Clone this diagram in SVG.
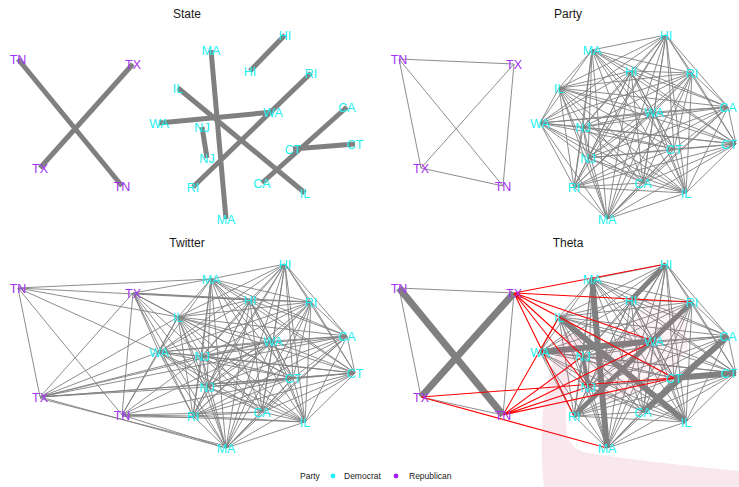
<svg xmlns="http://www.w3.org/2000/svg" xmlns:xlink="http://www.w3.org/1999/xlink" width="739" height="487" viewBox="0 0 739 487">
<style>
.e{stroke:#808080;stroke-width:0.9;fill:none}
.tk{stroke:#808080;fill:none}
.rd{stroke:#FF0000;stroke-width:1.1;fill:none}
text{font-family:"Liberation Sans",Arial,sans-serif}
.n text{font-size:12.5px;text-anchor:middle}
.d text{fill:#1CF0F0}
.r text{fill:#A533F0}
.title{font-size:12px;fill:#1a1a1a;text-anchor:middle}
.lg{font-size:8.5px;fill:#1a1a1a}
</style>
<defs>
<path id="clique" class="e" d="M211 50L226 219M211 50L285 35M211 50L250 71M211 50L311 73M211 50L193 187M211 50L178 88M211 50L305 193M211 50L159 123M211 50L273 112M211 50L202 127M211 50L207 158M211 50L347 107M211 50L262 183M211 50L293 149M211 50L355 144M226 219L285 35M226 219L250 71M226 219L311 73M226 219L193 187M226 219L178 88M226 219L305 193M226 219L159 123M226 219L273 112M226 219L202 127M226 219L207 158M226 219L347 107M226 219L262 183M226 219L293 149M226 219L355 144M285 35L250 71M285 35L311 73M285 35L193 187M285 35L178 88M285 35L305 193M285 35L159 123M285 35L273 112M285 35L202 127M285 35L207 158M285 35L347 107M285 35L262 183M285 35L293 149M285 35L355 144M250 71L311 73M250 71L193 187M250 71L178 88M250 71L305 193M250 71L159 123M250 71L273 112M250 71L202 127M250 71L207 158M250 71L347 107M250 71L262 183M250 71L293 149M250 71L355 144M311 73L193 187M311 73L178 88M311 73L305 193M311 73L159 123M311 73L273 112M311 73L202 127M311 73L207 158M311 73L347 107M311 73L262 183M311 73L293 149M311 73L355 144M193 187L178 88M193 187L305 193M193 187L159 123M193 187L273 112M193 187L202 127M193 187L207 158M193 187L347 107M193 187L262 183M193 187L293 149M193 187L355 144M178 88L305 193M178 88L159 123M178 88L273 112M178 88L202 127M178 88L207 158M178 88L347 107M178 88L262 183M178 88L293 149M178 88L355 144M305 193L159 123M305 193L273 112M305 193L202 127M305 193L207 158M305 193L347 107M305 193L262 183M305 193L293 149M305 193L355 144M159 123L273 112M159 123L202 127M159 123L207 158M159 123L347 107M159 123L262 183M159 123L293 149M159 123L355 144M273 112L202 127M273 112L207 158M273 112L347 107M273 112L262 183M273 112L293 149M273 112L355 144M202 127L207 158M202 127L347 107M202 127L262 183M202 127L293 149M202 127L355 144M207 158L347 107M207 158L262 183M207 158L293 149M207 158L355 144M347 107L262 183M347 107L293 149M347 107L355 144M262 183L293 149M262 183L355 144M293 149L355 144"/>
<path id="k4" class="e" d="M18 59L133 64M18 59L40 168M18 59L122 186M133 64L40 168M133 64L122 186M40 168L122 186"/>
</defs>
<rect width="739" height="487" fill="#FFFFFF"/>

<!-- STATE panel -->
<g id="panel-state">
<text class="title" x="187" y="18">State</text>
<g id="state-connectors" class="tk" stroke-width="5">
<path d="M18 59L122 186M133 64L40 168M211 50L226 219M285 35L250 71M311 73L193 187M178 88L305 193M159 123L273 112M202 127L207 158M347 107L262 183M293 149L355 144"/>
</g>
<g id="state-nodes" class="n">
<g id="state-TN1" class="r"><text x="18" y="63.5">TN</text></g>
<g id="state-TX1" class="r"><text x="133" y="68.5">TX</text></g>
<g id="state-TX2" class="r"><text x="40" y="172.5">TX</text></g>
<g id="state-TN2" class="r"><text x="122" y="190.5">TN</text></g>
<g id="state-MA1" class="d"><text x="211" y="54.5">MA</text></g>
<g id="state-MA2" class="d"><text x="226" y="223.5">MA</text></g>
<g id="state-HI1" class="d"><text x="285" y="39.5">HI</text></g>
<g id="state-HI2" class="d"><text x="250" y="75.5">HI</text></g>
<g id="state-RI1" class="d"><text x="311" y="77.5">RI</text></g>
<g id="state-RI2" class="d"><text x="193" y="191.5">RI</text></g>
<g id="state-IL1" class="d"><text x="178" y="92.5">IL</text></g>
<g id="state-IL2" class="d"><text x="305" y="197.5">IL</text></g>
<g id="state-WA1" class="d"><text x="159" y="127.5">WA</text></g>
<g id="state-WA2" class="d"><text x="273" y="116.5">WA</text></g>
<g id="state-NJ1" class="d"><text x="202" y="131.5">NJ</text></g>
<g id="state-NJ2" class="d"><text x="207" y="162.5">NJ</text></g>
<g id="state-CA1" class="d"><text x="347" y="111.5">CA</text></g>
<g id="state-CA2" class="d"><text x="262" y="187.5">CA</text></g>
<g id="state-CT1" class="d"><text x="293" y="153.5">CT</text></g>
<g id="state-CT2" class="d"><text x="355" y="148.5">CT</text></g>
</g>
</g>

<!-- PARTY panel -->
<g id="panel-party" transform="translate(381,0)">
<text class="title" x="187" y="18">Party</text>
<g id="party-connectors">
<use xlink:href="#k4" href="#k4"/>
<use xlink:href="#clique" href="#clique"/>
</g>
<g id="party-nodes" class="n">
<g id="party-TN1" class="r"><text x="18" y="63.5">TN</text></g>
<g id="party-TX1" class="r"><text x="133" y="68.5">TX</text></g>
<g id="party-TX2" class="r"><text x="40" y="172.5">TX</text></g>
<g id="party-TN2" class="r"><text x="122" y="190.5">TN</text></g>
<g id="party-MA1" class="d"><text x="211" y="54.5">MA</text></g>
<g id="party-MA2" class="d"><text x="226" y="223.5">MA</text></g>
<g id="party-HI1" class="d"><text x="285" y="39.5">HI</text></g>
<g id="party-HI2" class="d"><text x="250" y="75.5">HI</text></g>
<g id="party-RI1" class="d"><text x="311" y="77.5">RI</text></g>
<g id="party-RI2" class="d"><text x="193" y="191.5">RI</text></g>
<g id="party-IL1" class="d"><text x="178" y="92.5">IL</text></g>
<g id="party-IL2" class="d"><text x="305" y="197.5">IL</text></g>
<g id="party-WA1" class="d"><text x="159" y="127.5">WA</text></g>
<g id="party-WA2" class="d"><text x="273" y="116.5">WA</text></g>
<g id="party-NJ1" class="d"><text x="202" y="131.5">NJ</text></g>
<g id="party-NJ2" class="d"><text x="207" y="162.5">NJ</text></g>
<g id="party-CA1" class="d"><text x="347" y="111.5">CA</text></g>
<g id="party-CA2" class="d"><text x="262" y="187.5">CA</text></g>
<g id="party-CT1" class="d"><text x="293" y="153.5">CT</text></g>
<g id="party-CT2" class="d"><text x="348" y="148.5">CT</text></g>
</g>
</g>

<!-- TWITTER panel -->
<g id="panel-twitter" transform="translate(0,229)">
<text class="title" x="187" y="18">Twitter</text>
<g id="twitter-connectors">
<use xlink:href="#clique" href="#clique"/>
<path class="e" d="M18 59L211 50M18 59L250 71M18 59L178 88M18 59L159 123M18 59L40 168M18 59L122 186M133 64L211 50M133 64L250 71M133 64L311 73M133 64L178 88M133 64L159 123M133 64L202 127M133 64L207 158M133 64L193 187M133 64L293 149M133 64L40 168M133 64L122 186M133 64L226 219M40 168L178 88M40 168L159 123M40 168L202 127M40 168L273 112M40 168L347 107M40 168L293 149M40 168L355 144M40 168L207 158M40 168L226 219M40 169.5L226 217M122 186L159 123M122 186L178 88M122 186L202 127M122 186L273 112M122 186L293 149M122 186L193 187M122 187.5L193 188.5M122 186L305 193M122 186L262 183M122 186L226 219"/>
</g>
<g id="twitter-nodes" class="n">
<g id="twitter-TN1" class="r"><text x="18" y="63.5">TN</text></g>
<g id="twitter-TX1" class="r"><text x="133" y="68.5">TX</text></g>
<g id="twitter-TX2" class="r"><text x="40" y="172.5">TX</text></g>
<g id="twitter-TN2" class="r"><text x="122" y="190.5">TN</text></g>
<g id="twitter-MA1" class="d"><text x="211" y="54.5">MA</text></g>
<g id="twitter-MA2" class="d"><text x="226" y="223.5">MA</text></g>
<g id="twitter-HI1" class="d"><text x="285" y="39.5">HI</text></g>
<g id="twitter-HI2" class="d"><text x="250" y="75.5">HI</text></g>
<g id="twitter-RI1" class="d"><text x="311" y="77.5">RI</text></g>
<g id="twitter-RI2" class="d"><text x="193" y="191.5">RI</text></g>
<g id="twitter-IL1" class="d"><text x="178" y="92.5">IL</text></g>
<g id="twitter-IL2" class="d"><text x="305" y="197.5">IL</text></g>
<g id="twitter-WA1" class="d"><text x="159" y="127.5">WA</text></g>
<g id="twitter-WA2" class="d"><text x="273" y="116.5">WA</text></g>
<g id="twitter-NJ1" class="d"><text x="202" y="131.5">NJ</text></g>
<g id="twitter-NJ2" class="d"><text x="207" y="162.5">NJ</text></g>
<g id="twitter-CA1" class="d"><text x="347" y="111.5">CA</text></g>
<g id="twitter-CA2" class="d"><text x="262" y="187.5">CA</text></g>
<g id="twitter-CT1" class="d"><text x="293" y="153.5">CT</text></g>
<g id="twitter-CT2" class="d"><text x="355" y="148.5">CT</text></g>
</g>
</g>

<!-- THETA panel -->
<g id="panel-theta" transform="translate(381,229)">
<text class="title" x="187" y="18">Theta</text>
<g id="theta-connectors">
<use xlink:href="#clique" href="#clique"/>
<path class="e" d="M18 59L133 64M18 59L40 168M133 64L122 186M40 168L122 186"/>
<path class="tk" stroke-width="7" d="M18 59L122 186M133 64L40 168"/>
<path class="tk" stroke-width="6" d="M211 50L226 219M178 88L305 193M159 123L273 112M347 107L262 183M293 149L355 144"/>
<path class="tk" stroke-width="5" d="M285 35L250 71M311 73L193 187"/>
<path class="tk" stroke-width="4" d="M202 127L207 158"/>
<path class="rd" d="M133 64L285 35M133 64L311 73M133 64L178 88M133 64L273 112M133 64L202 127M133 64L207 158M133 64L193 187M133 64L293 149M122 186L178 88M122 186L202 127M122 186L273 112M122 186L207 158M122 186L293 149M40 168L293 149M40 168L226 219"/>
</g>
<g id="theta-watermark" transform="translate(-381,-229)">
<path d="M566 332C546 366 537 420 544 487L739 487L739 471C690 466 625 459 588 453C572 450 566 440 566 420C566 392 572 360 584 338Z" fill="#C8507A" fill-opacity="0.13"/>
<path d="M648 300L684 310L688 352L664 382L610 402L578 392L582 362L624 336Z" fill="#C8507A" fill-opacity="0.07"/>
</g>
<g id="theta-nodes" class="n">
<g id="theta-TN1" class="r"><text x="18" y="63.5">TN</text></g>
<g id="theta-TX1" class="r"><text x="133" y="68.5">TX</text></g>
<g id="theta-TX2" class="r"><text x="40" y="172.5">TX</text></g>
<g id="theta-TN2" class="r"><text x="122" y="190.5">TN</text></g>
<g id="theta-MA1" class="d"><text x="211" y="54.5">MA</text></g>
<g id="theta-MA2" class="d"><text x="226" y="223.5">MA</text></g>
<g id="theta-HI1" class="d"><text x="285" y="39.5">HI</text></g>
<g id="theta-HI2" class="d"><text x="250" y="75.5">HI</text></g>
<g id="theta-RI1" class="d"><text x="311" y="77.5">RI</text></g>
<g id="theta-RI2" class="d"><text x="193" y="191.5">RI</text></g>
<g id="theta-IL1" class="d"><text x="178" y="92.5">IL</text></g>
<g id="theta-IL2" class="d"><text x="305" y="197.5">IL</text></g>
<g id="theta-WA1" class="d"><text x="159" y="127.5">WA</text></g>
<g id="theta-WA2" class="d"><text x="273" y="116.5">WA</text></g>
<g id="theta-NJ1" class="d"><text x="202" y="131.5">NJ</text></g>
<g id="theta-NJ2" class="d"><text x="207" y="162.5">NJ</text></g>
<g id="theta-CA1" class="d"><text x="347" y="111.5">CA</text></g>
<g id="theta-CA2" class="d"><text x="262" y="187.5">CA</text></g>
<g id="theta-CT1" class="d"><text x="293" y="153.5">CT</text></g>
<g id="theta-CT2" class="d"><text x="348" y="148.5">CT</text></g>
</g>
</g>

<!-- Legend -->
<g id="legend">
<text class="lg" x="300" y="479">Party</text>
<circle cx="333" cy="476" r="2.4" fill="#1CF0F0"/>
<text class="lg" x="344" y="479">Democrat</text>
<circle cx="396" cy="476" r="2.4" fill="#A020F0"/>
<text class="lg" x="409" y="479">Republican</text>
</g>
</svg>
